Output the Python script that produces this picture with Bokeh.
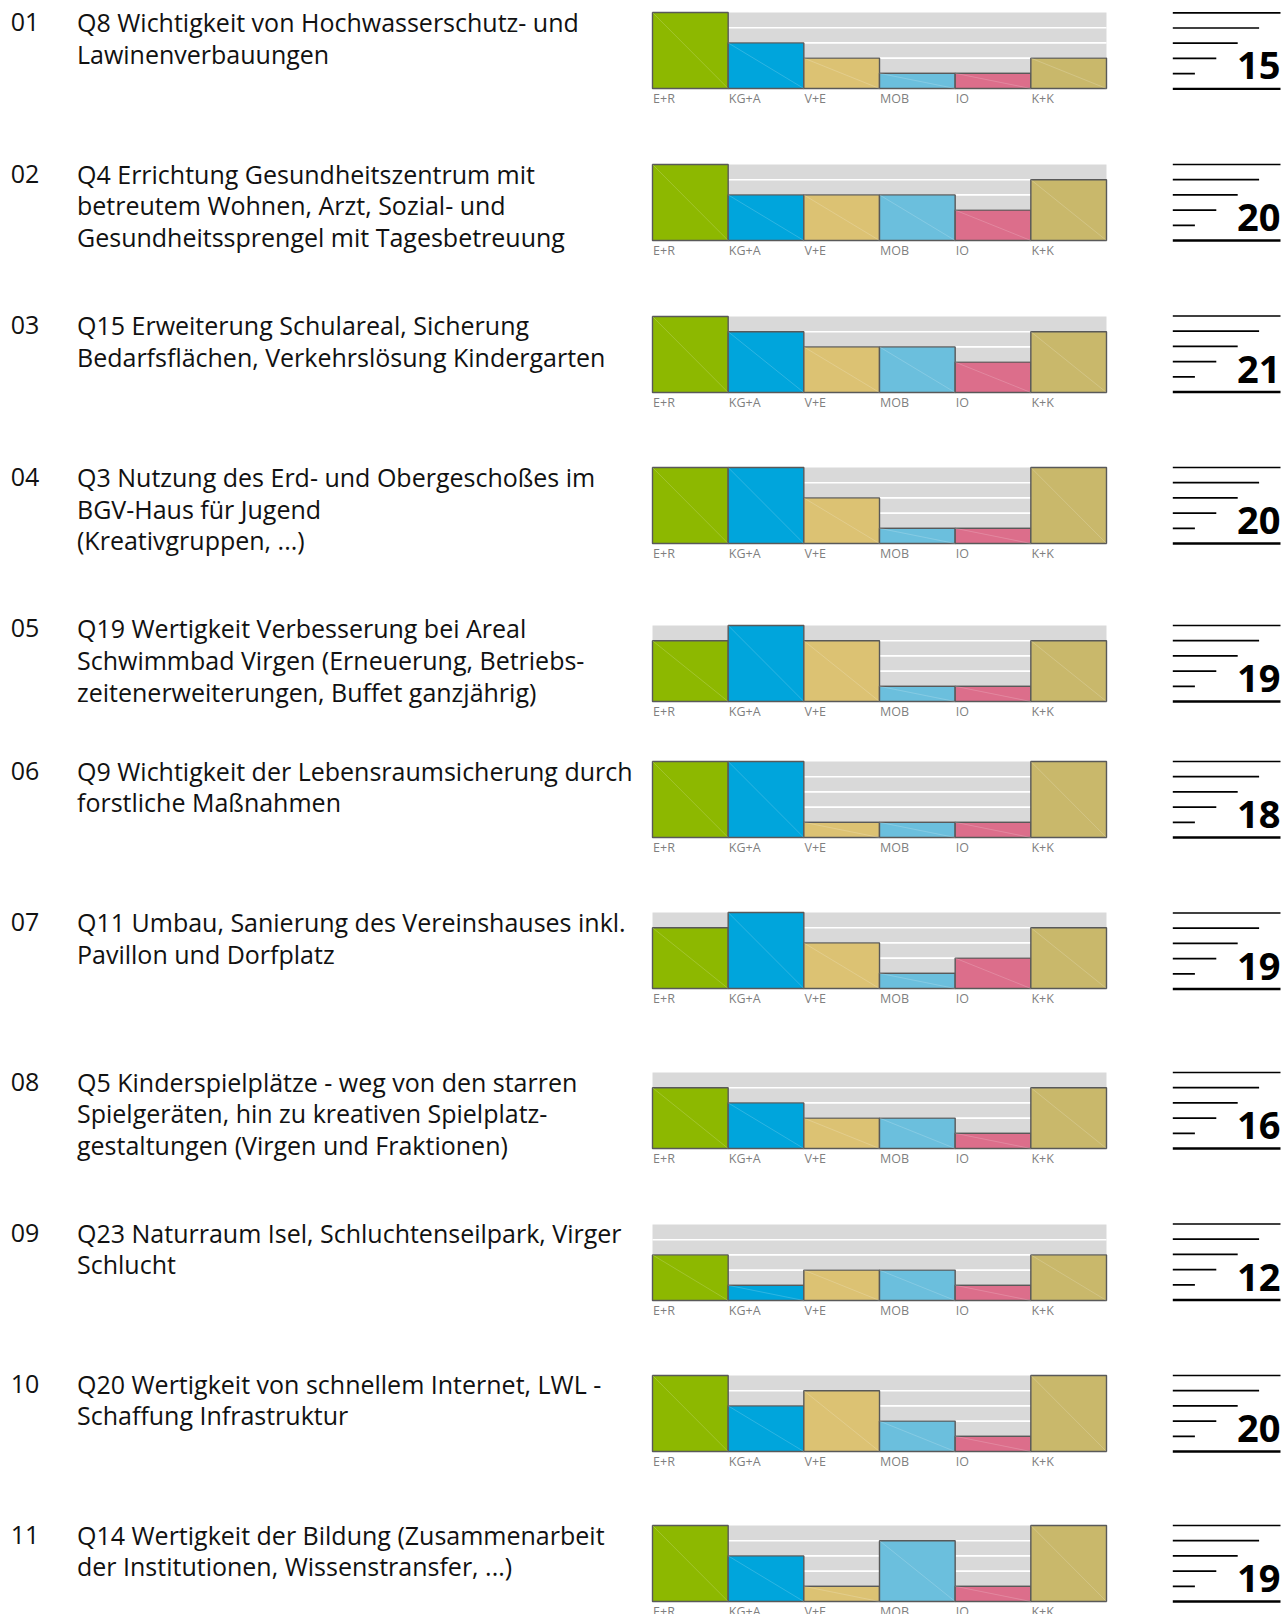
from bokeh.plotting import figure
from bokeh.layouts import row, column
from bokeh.models import Range1d, Spacer
from bokeh.embed import file_html
from bokeh.resources import INLINE
from bokeh.core.properties import value

# ---------------- data ----------------
categories = ["E+R", "KG+A", "V+E", "MOB", "IO", "K+K"]
bar_colors = ["#8db800", "#00a5dc", "#dcc273", "#6bbfdd", "#dc6e8b", "#c9b86b"]

row_numbers = ["01", "02", "03", "04", "05", "06", "07", "08", "09", "10", "11"]

questions = [
    ["Q8 Wichtigkeit von Hochwasserschutz- und", "Lawinenverbauungen"],
    ["Q4 Errichtung Gesundheitszentrum mit", "betreutem Wohnen, Arzt, Sozial- und",
     "Gesundheitssprengel mit Tagesbetreuung"],
    ["Q15 Erweiterung Schulareal, Sicherung", "Bedarfsflächen, Verkehrslösung Kindergarten"],
    ["Q3 Nutzung des Erd- und Obergeschoßes im", "BGV-Haus für Jugend", "(Kreativgruppen, ...)"],
    ["Q19 Wertigkeit  Verbesserung bei Areal", "Schwimmbad Virgen (Erneuerung, Betriebs-",
     "zeitenerweiterungen, Buffet ganzjährig)"],
    ["Q9 Wichtigkeit der Lebensraumsicherung durch", "forstliche Maßnahmen"],
    ["Q11 Umbau, Sanierung des Vereinshauses inkl.", "Pavillon und Dorfplatz"],
    ["Q5 Kinderspielplätze - weg von den starren", "Spielgeräten, hin zu kreativen Spielplatz-",
     "gestaltungen (Virgen und Fraktionen)"],
    ["Q23 Naturraum Isel, Schluchtenseilpark, Virger", "Schlucht"],
    ["Q20 Wertigkeit von schnellem Internet, LWL -", "Schaffung Infrastruktur"],
    ["Q14 Wertigkeit der Bildung (Zusammenarbeit", "der Institutionen, Wissenstransfer, ...)"],
]

# levels per category (0..5), one list per question
scores = [
    [5, 3, 2, 1, 1, 2],
    [5, 3, 3, 3, 2, 4],
    [5, 4, 3, 3, 2, 4],
    [5, 5, 3, 1, 1, 5],
    [4, 5, 4, 1, 1, 4],
    [5, 5, 1, 1, 1, 5],
    [4, 5, 3, 1, 2, 4],
    [4, 3, 2, 2, 1, 4],
    [3, 1, 2, 2, 1, 3],
    [5, 3, 4, 2, 1, 5],
    [5, 3, 1, 4, 1, 5],
]
totals = [15, 20, 21, 20, 19, 18, 19, 16, 12, 20, 19]
max_level = 5

# ---------------- layout (picture pixels) ----------------
TOTAL_W = 1283
TOTAL_H = 1614
chart_tops = [12.3, 164, 315.5, 467, 625, 761, 912.5, 1072, 1223.5, 1375, 1525]
text_centers = [21.6, 173.0, 324.8, 476.2, 627.5, 770.0, 921.6, 1081.0, 1232.0, 1383.0, 1534.0]
LINE_STEP = 31.8
LEVEL_PX = 15.2
CHART_LEFT = 652.3
CHART_W = 454.0
PAD = 2.0
FONT = "Open Sans"

LEFT_W = int(round(CHART_LEFT - PAD))          # 650
MID_W = int(round(CHART_W + 2 * PAD))          # 458
RIGHT_W = TOTAL_W - LEFT_W - MID_W


def bare(p):
    p.axis.visible = False
    p.grid.visible = False
    p.outline_line_color = None
    p.min_border = 0
    p.background_fill_color = "white"
    p.border_fill_color = "white"
    return p


# ---------- left text column ----------
left = bare(figure(width=LEFT_W, height=TOTAL_H, x_range=Range1d(0, LEFT_W),
                   y_range=Range1d(TOTAL_H, 0), output_backend="svg",
                   toolbar_location=None))
tx, ty, tt = [], [], []
for i, lines in enumerate(questions):
    tx.append(10.3)
    ty.append(text_centers[i])
    tt.append(row_numbers[i])
    for k, line in enumerate(lines):
        tx.append(76.5)
        ty.append(text_centers[i] + k * LINE_STEP)
        tt.append(line)
left.text(x=tx, y=ty, text=tt, text_font=value(FONT), text_font_size="25px",
          text_color="#111111", text_baseline="middle", text_align="left")

# ---------- middle chart column ----------
unit_x = CHART_W / len(categories)
mid_items = []
prev_bottom = 0
for i, vals in enumerate(scores):
    fig_top = int(round(chart_tops[i] - PAD))
    gap = fig_top - prev_bottom
    if gap > 0:
        mid_items.append(Spacer(width=MID_W, height=gap))
    h = min(100, TOTAL_H - fig_top)
    y_end = max_level + PAD / LEVEL_PX
    padx = PAD / unit_x
    c = bare(figure(width=MID_W, height=h,
                    x_range=Range1d(-padx, len(categories) + padx),
                    y_range=Range1d(y_end - h / LEVEL_PX, y_end),
                    output_backend="svg", toolbar_location=None))
    n = len(categories)
    idx = list(range(n))
    c.quad(left=[0], right=[n], bottom=[0], top=[max_level], fill_color="#d9d9d9", line_color=None)
    lv = list(range(1, max_level))
    c.segment(x0=[0] * len(lv), x1=[n] * len(lv), y0=lv, y1=lv, line_color="white", line_width=1.6)
    c.quad(left=idx, right=[j + 1 for j in idx], bottom=[0] * n, top=vals,
           fill_color=bar_colors, line_color="#595959", line_width=1.4)
    c.segment(x0=idx, y0=vals, x1=[j + 1 for j in idx], y1=[0] * n,
              line_color="white", line_alpha=0.18, line_width=1)
    c.text(x=[j + 0.008 for j in idx], y=[-9.8 / LEVEL_PX] * n, text=categories,
           text_font=value(FONT), text_font_size="12.5px", text_color="#7f7f7f",
           text_baseline="middle", text_align="left")
    mid_items.append(c)
    prev_bottom = fig_top + h
if prev_bottom < TOTAL_H:
    mid_items.append(Spacer(width=MID_W, height=TOTAL_H - prev_bottom))
mid = column(*mid_items, spacing=0)

# ---------- right icon column ----------
rx0 = LEFT_W + MID_W
right = bare(figure(width=RIGHT_W, height=TOTAL_H, x_range=Range1d(rx0, rx0 + RIGHT_W),
                    y_range=Range1d(TOTAL_H, 0), output_backend="svg",
                    toolbar_location=None))
ICON_R = 1280.0
ICON_L, ICON_STEP = ICON_R - 107.7, 21.4
sx0, sx1, sy = [], [], []
bx0, bx1, by = [], [], []
for i in range(len(scores)):
    for k in range(max_level):
        sx0.append(ICON_L)
        sx1.append(ICON_R - k * ICON_STEP)
        sy.append(chart_tops[i] + k * LEVEL_PX)
    bx0.append(ICON_L)
    bx1.append(ICON_R)
    by.append(chart_tops[i] + max_level * LEVEL_PX)
right.segment(x0=sx0, x1=sx1, y0=sy, y1=sy, line_color="black", line_width=1.7)
right.segment(x0=bx0, x1=bx1, y0=by, y1=by, line_color="black", line_width=2.3)
right.text(x=[ICON_R] * len(totals), y=[t + 53.0 for t in chart_tops], text=[str(t) for t in totals],
           text_font=value(FONT), text_font_size="38px", text_font_style="bold",
           text_color="black", text_baseline="middle", text_align="right")

layout = row(left, mid, right, spacing=0)
open("out.html", "w").write(file_html(layout, INLINE))
